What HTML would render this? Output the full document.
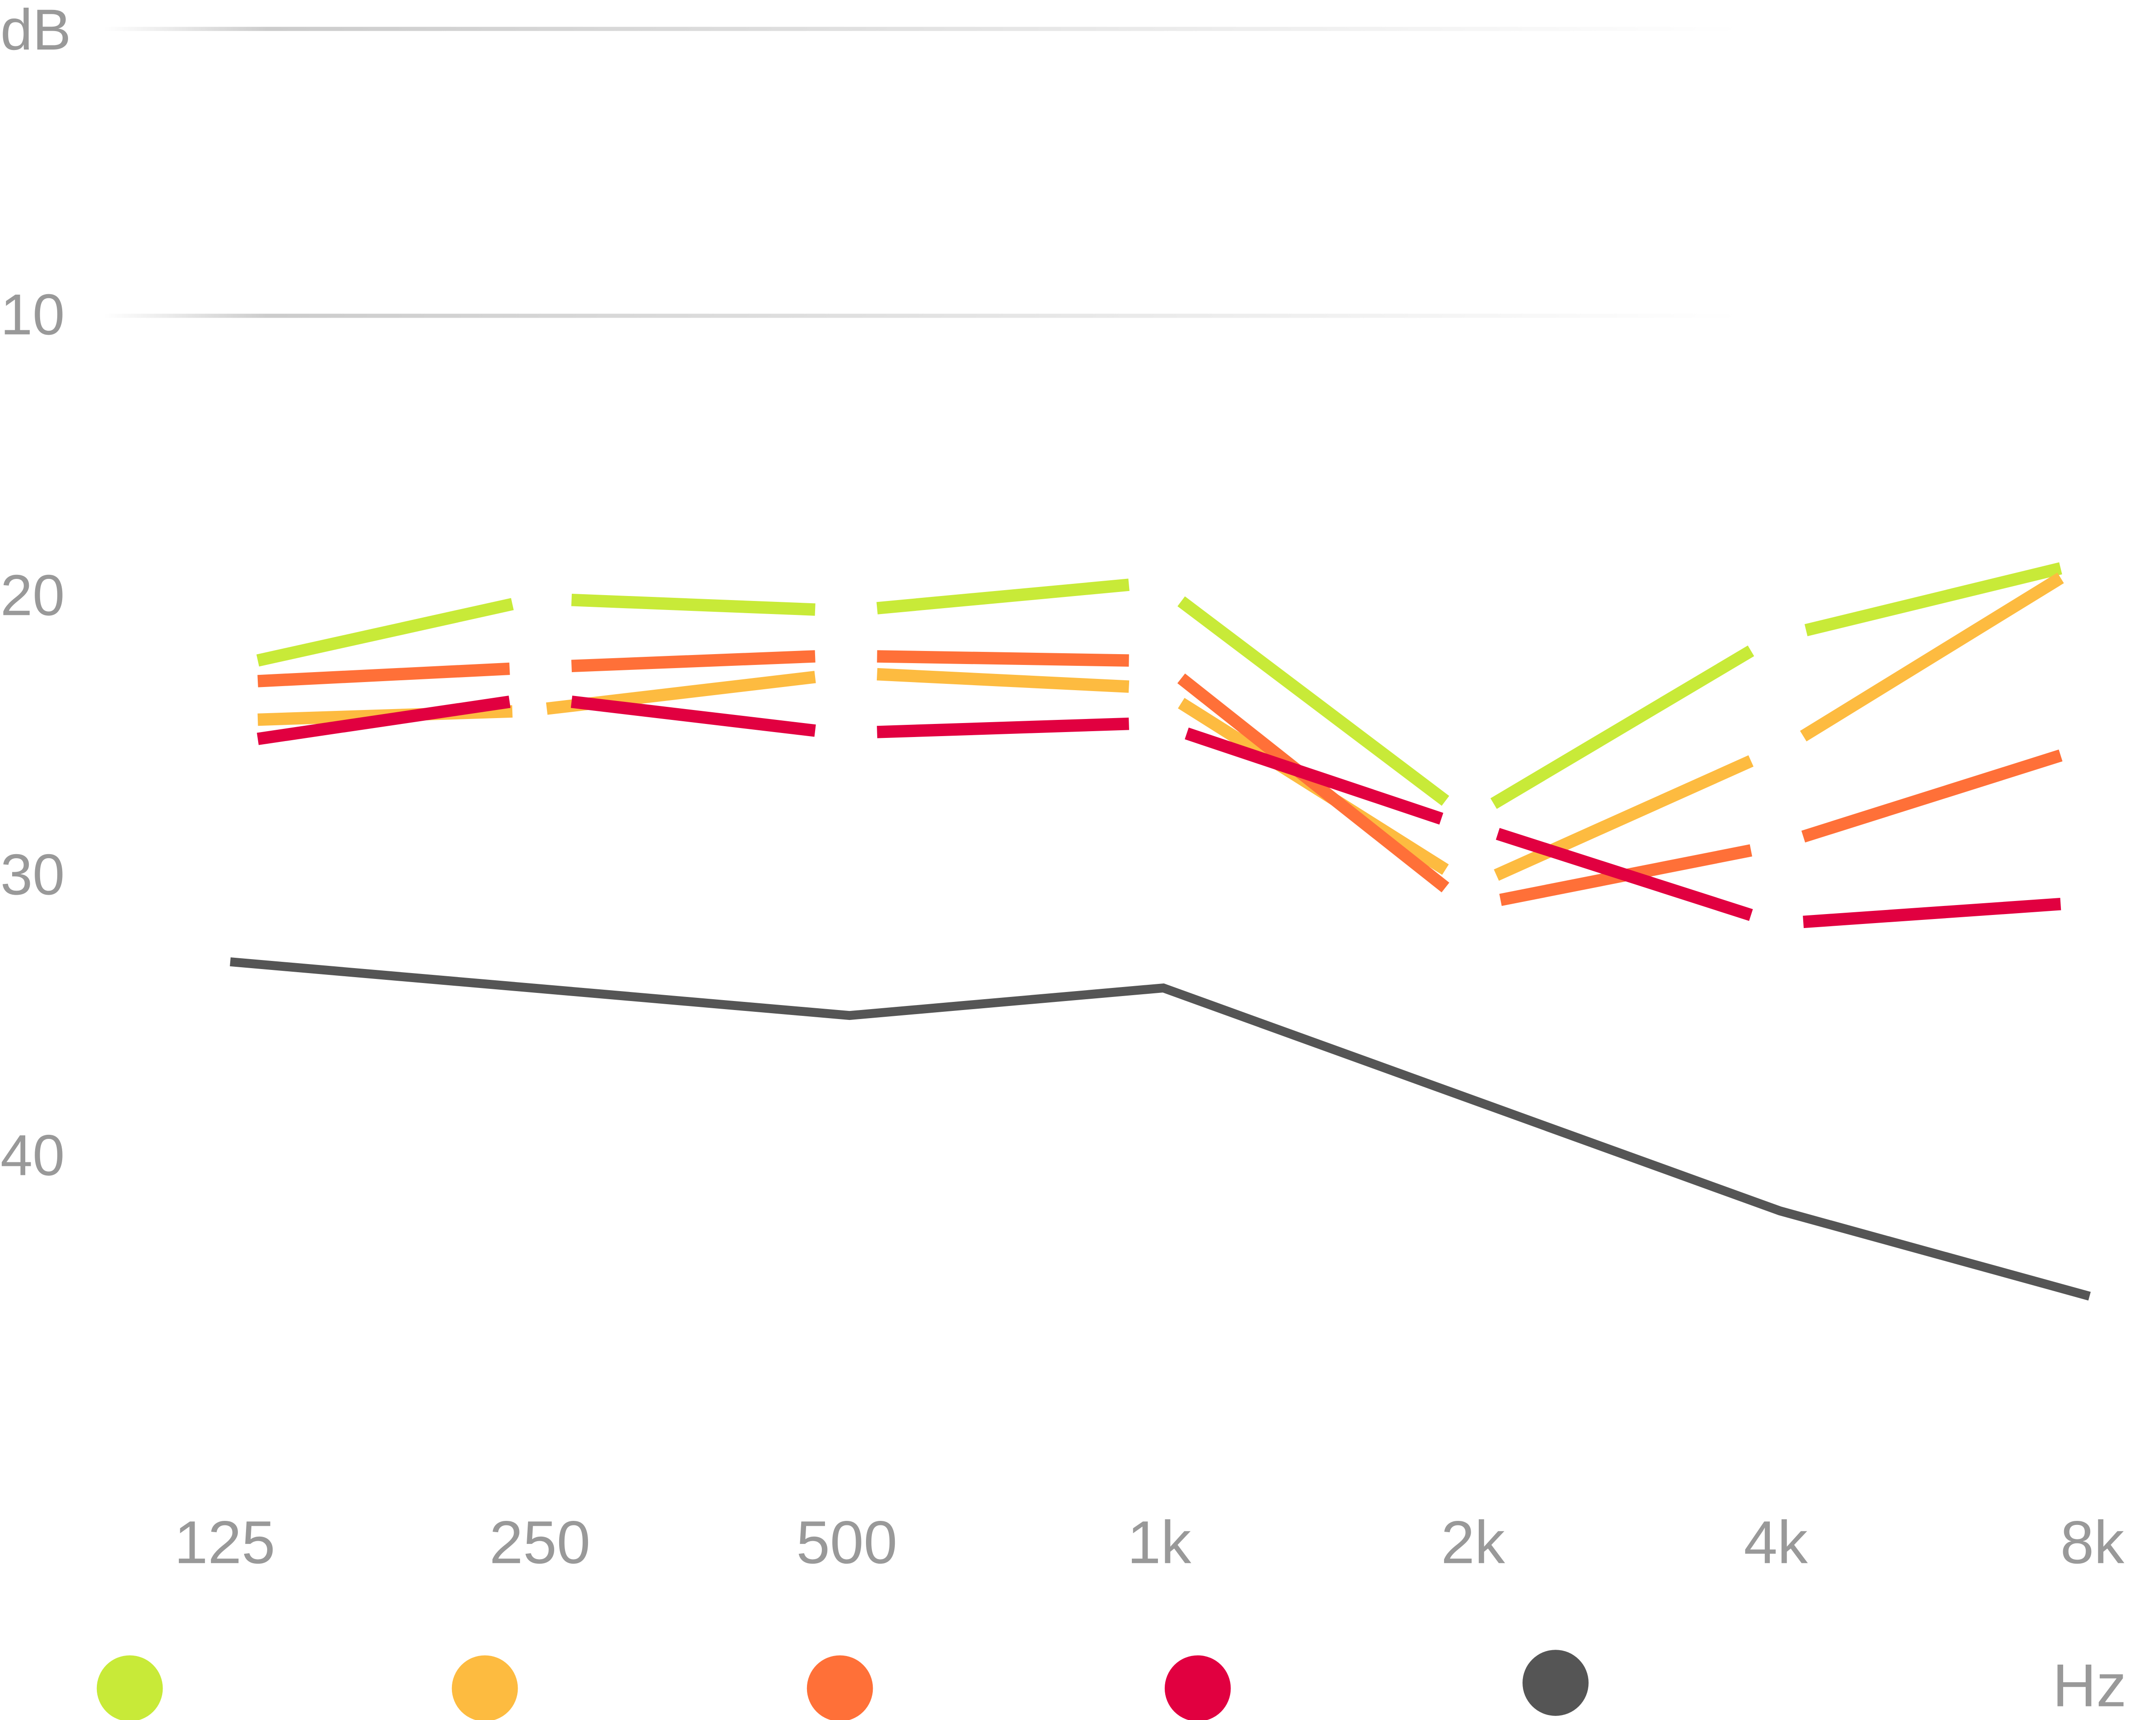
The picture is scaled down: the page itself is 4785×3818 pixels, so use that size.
<!DOCTYPE html>
<html><head><meta charset="utf-8"><style>
html,body{margin:0;padding:0;background:#fff;}
svg{display:block;}
text{font-family:"Liberation Sans",sans-serif;fill:#999;}
</style></head><body>
<svg width="4785" height="3818" viewBox="0 0 1566 1250" xmlns="http://www.w3.org/2000/svg">
<defs>
<linearGradient id="g" x1="0" x2="1" y1="0" y2="0">
<stop offset="0" stop-color="#fff"/>
<stop offset="0.1" stop-color="#ccc"/>
<stop offset="1" stop-color="#fff"/>
</linearGradient>
</defs>
<rect x="75" y="19.5" width="1190" height="3" fill="url(#g)"/>
<rect x="75" y="228" width="1190" height="3" fill="url(#g)"/>
<g font-size="42">
<text x="0" y="36">dB</text>
<text x="0" y="243">10</text>
<text x="0" y="447">20</text>
<text x="0" y="650">30</text>
<text x="0" y="854">40</text>
</g>
<g stroke-width="9" fill="none" stroke-linecap="butt">
<g stroke="#c8ea38">
<line x1="187" y1="480" x2="372" y2="439"/><line x1="415" y1="436" x2="592" y2="443"/>
<line x1="637" y1="442" x2="820" y2="425"/><line x1="858" y1="437" x2="1050" y2="582"/>
<line x1="1085" y1="584" x2="1272" y2="473"/><line x1="1312" y1="458" x2="1497" y2="413"/>
</g>
<g stroke="#fdbb40">
<line x1="187" y1="523" x2="372" y2="517"/><line x1="397" y1="515" x2="592" y2="492"/>
<line x1="637" y1="490" x2="820" y2="499"/><line x1="858" y1="511" x2="1050" y2="632"/>
<line x1="1087" y1="636" x2="1272" y2="553"/><line x1="1310" y1="535" x2="1497" y2="420"/>
</g>
<g stroke="#ff7038">
<line x1="187" y1="495" x2="370" y2="486"/><line x1="415" y1="484" x2="592" y2="477"/>
<line x1="637" y1="477" x2="820" y2="480"/><line x1="858" y1="493" x2="1050" y2="645"/>
<line x1="1090" y1="654" x2="1272" y2="618"/><line x1="1310" y1="608" x2="1497" y2="549"/>
</g>
<g stroke="#e10040">
<line x1="187" y1="537" x2="370" y2="510"/><line x1="415" y1="510" x2="592" y2="531"/>
<line x1="637" y1="532" x2="820" y2="526"/><line x1="862" y1="533" x2="1047" y2="595"/>
<line x1="1088" y1="606" x2="1272" y2="665"/><line x1="1310" y1="670" x2="1497" y2="657"/>
</g>
</g>
<polyline points="167,699 617,738 845,718 1293,880 1518,942" fill="none" stroke="#555" stroke-width="6.5"/>
<g font-size="44" text-anchor="middle">
<text x="163" y="1136">125</text>
<text x="392" y="1136">250</text>
<text x="615" y="1136">500</text>
<text x="842" y="1136">1k</text>
<text x="1070" y="1136">2k</text>
<text x="1290" y="1136">4k</text>
<text x="1520" y="1136">8k</text>
<text x="1518" y="1240">Hz</text>
</g>
<circle cx="94" cy="1227" r="24" fill="#c8ea38"/>
<circle cx="352" cy="1227" r="24" fill="#fdbb40"/>
<circle cx="610" cy="1227" r="24" fill="#ff7038"/>
<circle cx="870" cy="1227" r="24" fill="#e10040"/>
<circle cx="1130" cy="1223" r="24" fill="#555"/>
</svg>
</body></html>
